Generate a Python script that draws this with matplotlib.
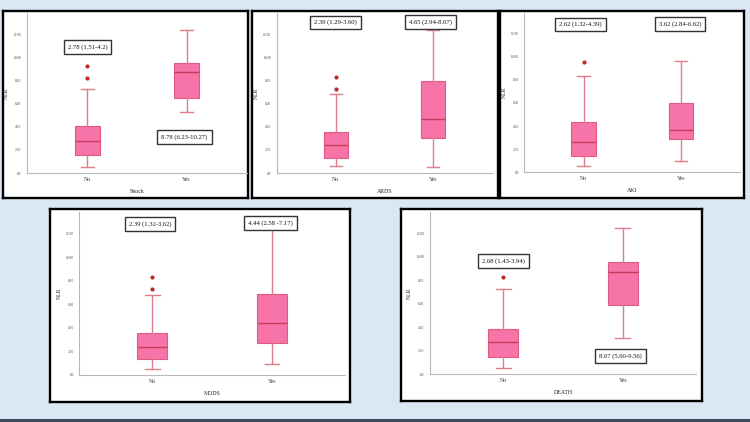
import matplotlib
matplotlib.use("Agg")
import matplotlib.pyplot as plt
from matplotlib.patches import Rectangle

plt.rcParams['font.family'] = ['Liberation Serif', 'DejaVu Serif']

# ---- data ----
groups = ["No", "Yes"]
yticks = [0, 2, 4, 6, 8, 10, 12]
ytick_labels = [".00", "2.00", "4.00", "6.00", "8.00", "10.00", "12.00"]

shock_no = dict(whislo=0.52, q1=1.57, med=2.75, q3=4.06, whishi=7.26, fliers=[8.27, 9.31])
shock_yes = dict(whislo=5.26, q1=6.54, med=8.76, q3=9.54, whishi=12.41, fliers=[])
ards_no = dict(whislo=0.58, q1=1.33, med=2.40, q3=3.56, whishi=6.82, fliers=[7.26, 8.30])
ards_yes = dict(whislo=0.49, q1=3.07, med=4.68, q3=8.01, whishi=12.43, fliers=[])
aki_no = dict(whislo=0.52, q1=1.41, med=2.62, q3=4.36, whishi=8.31, fliers=[9.55])
aki_yes = dict(whislo=0.95, q1=2.86, med=3.66, q3=5.97, whishi=9.60, fliers=[])
mods_no = dict(whislo=0.48, q1=1.36, med=2.38, q3=3.54, whishi=6.82, fliers=[7.27, 8.29])
mods_yes = dict(whislo=0.91, q1=2.69, med=4.42, q3=6.85, whishi=12.37, fliers=[])
death_no = dict(whislo=0.48, q1=1.45, med=2.70, q3=3.81, whishi=7.28, fliers=[8.27])
death_yes = dict(whislo=3.07, q1=5.91, med=8.70, q3=9.53, whishi=12.43, fliers=[])

labels = ["Shock", "ARDS", "AKI", "MODS", "DEATH"]
stats = [(shock_no, shock_yes), (ards_no, ards_yes), (aki_no, aki_yes),
         (mods_no, mods_yes), (death_no, death_yes)]
notes = [
    [("2.78 (1.51-4.2)", 1.0, 10.9), ("8.78 (6.23-10.27)", 1.98, 3.1)],
    [("2.39 (1.29-3.60)", 1.0, 13.06), ("4.65 (2.94-8.67)", 1.98, 13.1)],
    [("2.62 (1.32-4.39)", 0.97, 12.79), ("3.62 (2.84-6.62)", 1.99, 12.86)],
    [("2.39 (1.32-3.62)", 0.98, 12.84), ("4.44 (2.58 -7.17)", 1.99, 12.92)],
    [("2.68 (1.43-3.94)", 1.0, 9.62), ("8.67 (5.60-9.56)", 1.98, 1.51)],
]

# ---- layout (pixels) ----
W, H = 750, 422
frames = [(3, 11, 248, 198), (252, 11, 498, 198), (500, 11, 744, 198),
          (50, 209, 350, 402), (401, 209, 702, 401)]
# axis left, axis right, x-axis y, top y, px per unit
axpos = [(27, 247, 173, 12.7, 11.53), (276.7, 492, 173, 12.7, 11.53),
         (524.3, 740, 172.3, 12.7, 11.56), (79.3, 345, 375, 211.7, 11.78),
         (430, 696, 374, 211.7, 11.72)]

fig = plt.figure(figsize=(W / 100, H / 100), dpi=100)
fig.patch.set_facecolor("#dce7f5")
fig.patches.append(Rectangle((0, 0), 1, 3 / H, transform=fig.transFigure,
                             facecolor="#3d4b5d", edgecolor="none"))

fill = "#f674a8"
edge = "#e05a82"
medc = "#c83a5e"
whc = "#e07f8c"
fc = "#c0282d"

for i in range(5):
    x0, y0, x1, y1 = frames[i]
    fa = fig.add_axes([x0 / W, 1 - y1 / H, (x1 - x0) / W, (y1 - y0) / H])
    fa.set_facecolor("white")
    fa.set_xticks([]); fa.set_yticks([])
    for s in fa.spines.values():
        s.set_color("black"); s.set_linewidth(1.7)

    al, ar, ay, at, ppu = axpos[i]
    ax = fig.add_axes([al / W, 1 - ay / H, (ar - al) / W, (ay - at) / H])
    ax.patch.set_alpha(0)
    ax.set_xlim(0.39, 2.61)
    ax.set_ylim(0, (ay - at) / ppu)
    st = []
    for g, d in zip(groups, stats[i]):
        dd = dict(d); dd["label"] = g
        st.append(dd)
    ax.bxp(st, positions=[1, 2], widths=0.25, capwidths=0.125,
           patch_artist=True, showfliers=True,
           boxprops=dict(facecolor=fill, edgecolor=edge, linewidth=0.8),
           medianprops=dict(color=medc, linewidth=1.0),
           whiskerprops=dict(color=whc, linewidth=1.0),
           capprops=dict(color=whc, linewidth=1.0),
           flierprops=dict(marker="o", markersize=2.0, markerfacecolor=fc,
                           markeredgecolor=fc))
    ax.set_yticks(yticks)
    ax.set_yticklabels(ytick_labels)
    ax.tick_params(axis="y", length=0, labelsize=2.6, pad=4, colors="#444444")
    ax.tick_params(axis="x", length=0, labelsize=4.2, pad=3, colors="#333333")
    for s in ["top", "right"]:
        ax.spines[s].set_visible(False)
    for s in ["left", "bottom"]:
        ax.spines[s].set_color("#b8b8b8"); ax.spines[s].set_linewidth(0.8)
    ax.set_ylabel("NLR", fontsize=4.2, labelpad=3, color="#222222")
    ax.set_xlabel(labels[i], fontsize=4.2, labelpad=5, color="#222222")
    for txt, x, y in notes[i]:
        ax.text(x, y, txt, ha="center", va="center", fontsize=4.8, color="#111111",
                bbox=dict(boxstyle="square,pad=0.6", facecolor="white",
                          edgecolor="#333333", linewidth=1.0), clip_on=False)

fig.savefig("out.png", dpi=100, facecolor=fig.get_facecolor())
